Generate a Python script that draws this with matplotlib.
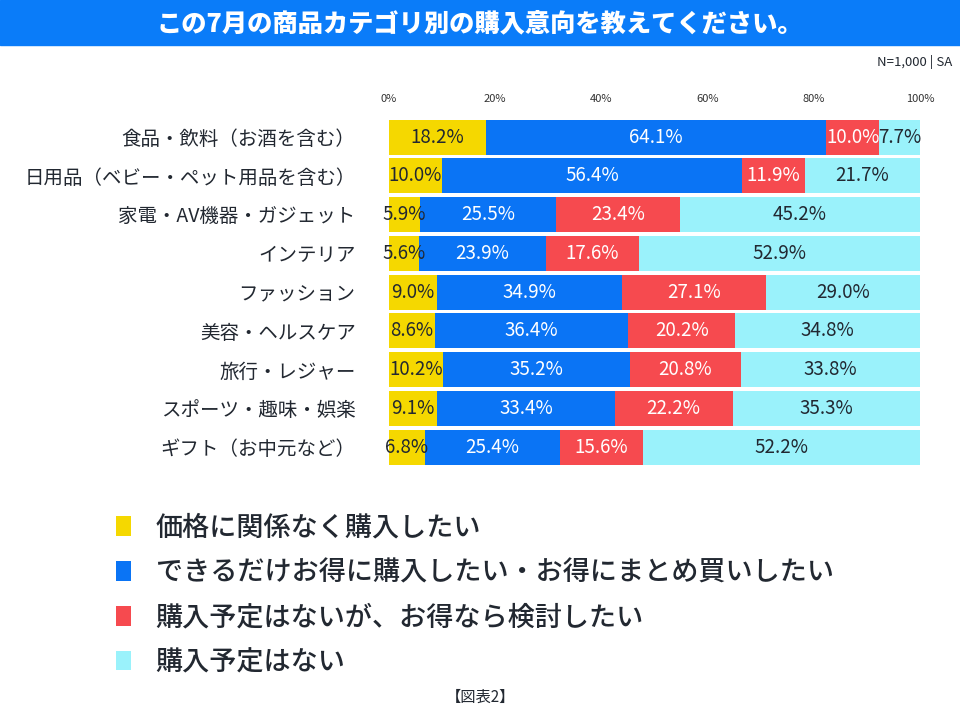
import numpy as np
import matplotlib.pyplot as plt
from matplotlib.patches import Rectangle

plt.rcParams['font.family'] = ['Noto Sans CJK JP', 'DejaVu Sans']

# Data
categories = ['食品・飲料（お酒を含む）', '日用品（ベビー・ペット用品を含む）', '家電・AV機器・ガジェット',
              'インテリア', 'ファッション', '美容・ヘルスケア', '旅行・レジャー',
              'スポーツ・趣味・娯楽', 'ギフト（お中元など）']
series_names = ['価格に関係なく購入したい',
                'できるだけお得に購入したい・お得にまとめ買いしたい',
                '購入予定はないが、お得なら検討したい',
                '購入予定はない']
any_price = [18.2, 10.0, 5.9, 5.6, 9.0, 8.6, 10.2, 9.1, 6.8]
bargain = [64.1, 56.4, 25.5, 23.9, 34.9, 36.4, 35.2, 33.4, 25.4]
maybe = [10.0, 11.9, 23.4, 17.6, 27.1, 20.2, 20.8, 22.2, 15.6]
no_plan = [7.7, 21.7, 45.2, 52.9, 29.0, 34.8, 33.8, 35.3, 52.2]
ticks = [0, 20, 40, 60, 80, 100]

colors = ['#f5d800', '#0a74f5', '#f64a4f', '#9af2fb']
text_colors = ['#222831', 'white', 'white', '#222831']

fig = plt.figure(figsize=(9.6, 7.2), dpi=100)

# title band
fig.patches.append(Rectangle((0, 1 - 45 / 720), 1, 45 / 720, transform=fig.transFigure,
                             color='#0a7cf9', zorder=0))
fig.text(0.5, 1 - 23 / 720, 'この7月の商品カテゴリ別の購入意向を教えてください。',
         ha='center', va='center', color='white', fontsize=18.2, fontweight='heavy')
fig.text(952 / 960, 1 - 62 / 720, 'N=1,000 | SA', ha='right', va='center',
         fontsize=9.5, color='#222831')

ax = fig.add_axes([389 / 960, 0.352, (920 - 389) / 960, 0.4845])
y = np.arange(len(categories))
left = np.zeros(len(categories))
handles = []
for vals, c, tc, name in zip([any_price, bargain, maybe, no_plan], colors, text_colors, series_names):
    vals = np.array(vals)
    bars = ax.barh(y, vals, left=left, height=0.9, color=c, label=name)
    handles.append(bars)
    for yi, l, v in zip(y, left, vals):
        ax.text(l + v / 2, yi, f'{v:.1f}%', ha='center', va='center',
                color=tc, fontsize=13.5)
    left += vals

ax.set_xlim(0, 100)
ax.set_ylim(len(categories) - 0.5, -0.5)
ax.set_xticks(ticks)
ax.set_xticklabels([f'{t}%' for t in ticks], fontsize=8, color='#333333')
ax.xaxis.tick_top()
ax.set_yticks(y)
ax.set_yticklabels(categories, fontsize=14, color='#222831')
ax.tick_params(length=0)
ax.tick_params(axis='x', pad=10)
ax.tick_params(axis='y', pad=24)
for s in ax.spines.values():
    s.set_visible(False)

fig.legend(handles=handles, loc='upper left', bbox_to_anchor=(92 / 960, 1 - 490 / 720),
           frameon=False, handlelength=0.55, handleheight=0.75,
           handletextpad=0.9, labelspacing=0.66, labelcolor='#222831',
           prop={'size': 19.5, 'weight': 'medium'})

fig.text(0.5, 1 - 697 / 720, '【図表2】', ha='center', va='center', fontsize=11, color='#222831')

fig.savefig('out.png', dpi=100)
